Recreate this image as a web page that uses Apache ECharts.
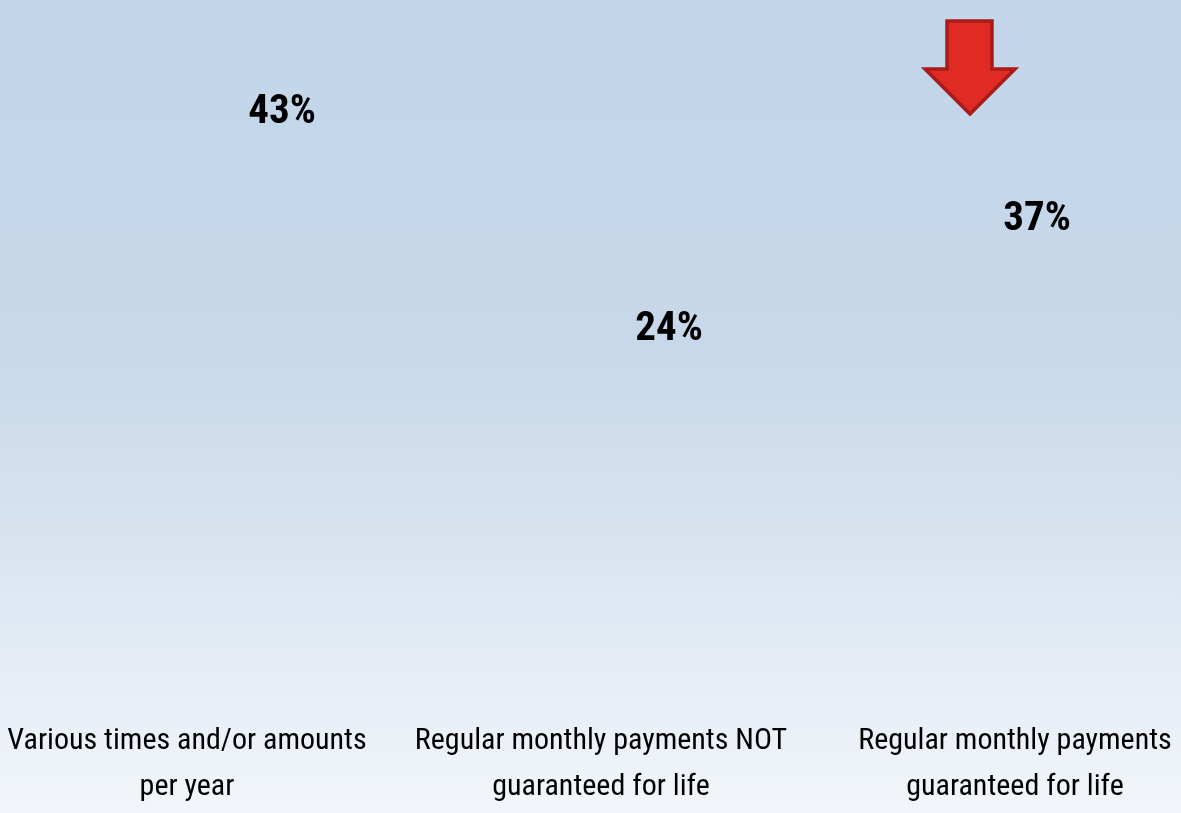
<!DOCTYPE html>
<html>
<head>
<meta charset="utf-8">
<script src="https://cdn.jsdelivr.net/npm/echarts@6/dist/echarts.min.js"></script>
<style>
html, body { margin: 0; padding: 0; }
#chart { width: 1181px; height: 813px; }
</style>
</head>
<body>
<div id="chart"></div>
<script>
var categories = [
	'Various times and/or amounts\nper year',
	'Regular monthly payments NOT\nguaranteed for life',
	'Regular monthly payments\nguaranteed for life'
];
var values = [43, 24, 37];
// label nudges, the original was drawn in perspective
var labelShift = [[95, -15], [68, -5], [22, 27]];

var Chart = echarts.init(document.getElementById('chart'));

var seriesData = [];
for (var i = 0; i < values.length; i++) {
	seriesData.push({
		value: values[i],
		label: { offset: labelShift[i] }
	});
}

var option = {
	backgroundColor: {
		type: 'linear', x: 0, y: 0, x2: 0, y2: 1,
		colorStops: [
			{ offset: 0, color: '#c3d5ea' },
			{ offset: 0.42, color: '#c6d8e9' },
			{ offset: 0.62, color: '#d6e1ef' },
			{ offset: 1, color: '#f2f6fa' }
		]
	},
	grid: { left: -20, right: -41, top: 51, bottom: 216, outerBoundsMode: 'none', containLabel: false },
	xAxis: {
		type: 'category',
		data: categories,
		axisLine: { show: false },
		axisTick: { show: false },
		axisLabel: {
			interval: 0,
			margin: 121,
			color: '#000',
			fontFamily: '"Roboto Condensed", "DejaVu Sans Condensed", sans-serif',
			fontSize: 30,
			lineHeight: 46
		}
	},
	yAxis: {
		type: 'value',
		min: 0,
		max: 50,
		show: false,
		splitLine: { show: false }
	},
	series: [{
		type: 'bar',
		data: seriesData,
		barWidth: '40%',
		itemStyle: { color: 'rgba(0,0,0,0)' },
		label: {
			show: true,
			position: ['50%', 0],
			align: 'center',
			verticalAlign: 'middle',
			formatter: '{c}%',
			color: '#000',
			fontWeight: 'bold',
			fontSize: 41,
			fontFamily: '"Roboto Condensed", "Open Sans Condensed", sans-serif'
		},
		silent: true
	}],
	graphic: [{
		type: 'polygon',
		shape: {
			points: [[947, 21], [992, 21], [992, 69], [1015, 69], [970, 114], [925, 69], [947, 69]]
		},
		style: { fill: '#e02a24', stroke: '#a81c1a', lineWidth: 3.5, lineJoin: 'miter' }
	}]
};
Chart.setOption(option);
</script>
</body>
</html>
